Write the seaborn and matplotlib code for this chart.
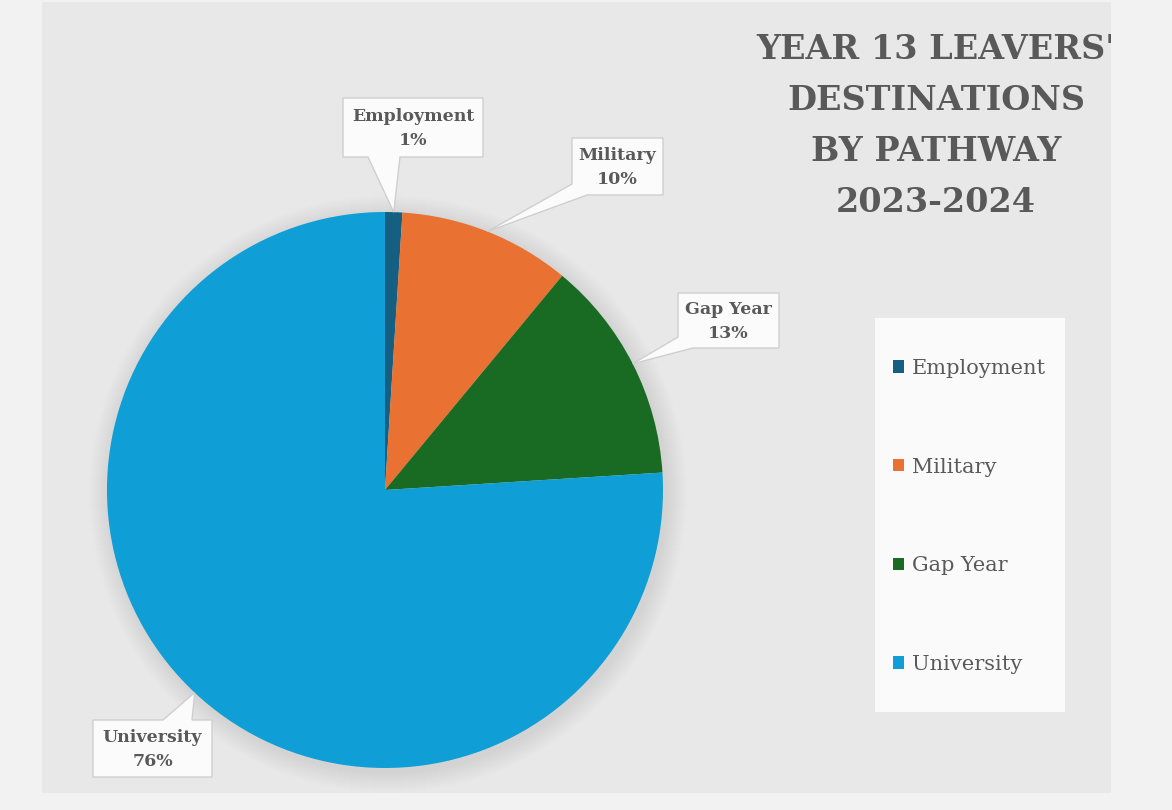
import numpy as np
import matplotlib
matplotlib.use("Agg")
import matplotlib.pyplot as plt
import seaborn as sns
from matplotlib.patches import Rectangle, Polygon, Circle

# ---- data ----
categories = ["Employment", "Military", "Gap Year", "University"]
values = [1, 10, 13, 76]
pct_labels = ["1%", "10%", "13%", "76%"]
colors = ["#156082", "#E97132", "#196B24", "#0F9ED5"]
title_lines = ["YEAR 13 LEAVERS'", "DESTINATIONS", "BY PATHWAY", "2023-2024"]

sns.set_style("white")
plt.rcParams['font.family'] = ['DejaVu Serif']

W, H = 1172, 810
fig = plt.figure(figsize=(W / 100, H / 100), dpi=100)
fig.patch.set_facecolor("#f2f2f2")
ax = fig.add_axes([0, 0, 1, 1])


def Y(y):
    return H - y


panel = Rectangle((42, Y(793)), 1069, 791, facecolor="#e8e8e8", edgecolor="none", zorder=0)
ax.add_patch(panel)

cx, cy, R = 385, Y(490), 278

# soft shadow around pie
for k in range(1, 22):
    ax.add_patch(Circle((cx + 3, cy - 4), R + k, facecolor="black", edgecolor="none",
                        alpha=0.0035, zorder=1))

wedges, _ = ax.pie(values, colors=colors, startangle=90, counterclock=False,
                   center=(cx, cy), radius=R, wedgeprops=dict(linewidth=0, zorder=2))
for w in wedges:
    w.set_zorder(2)

ax.set_xlim(0, W)
ax.set_ylim(0, H)
ax.set_aspect("auto")
ax.axis("off")

txt_color = "#595959"


def tip_of(i):
    w = wedges[i]
    a = np.deg2rad((w.theta1 + w.theta2) / 2)
    return (cx + R * np.cos(a), cy + R * np.sin(a))


# callout boxes (pixel coords, y down)
boxes = {
    0: (343, 98, 483, 157),
    1: (572, 138, 663, 195),
    2: (678, 293, 779, 348),
    3: (93, 720, 212, 777),
}


def callout_poly(i):
    x0, y0, x1, y1 = boxes[i]
    tip = tip_of(i)
    TL, TR, BR, BL = (x0, Y(y0)), (x1, Y(y0)), (x1, Y(y1)), (x0, Y(y1))
    if i == 0:
        pts = [TL, TR, BR, (400, Y(y1)), tip, (368, Y(y1)), BL]
    elif i in (1, 2):
        pts = [TL, TR, BR, (x0 + 15, Y(y1)), tip, (x0, Y(y1 - 11))]
    else:
        pts = [TL, (163, Y(y0)), tip, (192, Y(y0)), TR, BR, BL]
    return pts


for i in range(4):
    poly = Polygon(callout_poly(i), closed=True, facecolor="#fbfbfb",
                   edgecolor="#cfcfcf", linewidth=1.0, zorder=4)
    ax.add_patch(poly)
    x0, y0, x1, y1 = boxes[i]
    ax.text((x0 + x1) / 2, Y((y0 + y1) / 2 + 1), categories[i] + "\n" + pct_labels[i],
            ha="center", va="center", fontsize=12.5, fontweight="bold",
            color=txt_color, linespacing=1.5, zorder=5)

# title
title = ax.text(936, Y(126), "\n".join(title_lines), ha="center", va="center",
                fontsize=24, fontweight="bold", color=txt_color, linespacing=1.70,
                zorder=5, clip_on=True)
title.set_clip_path(panel)

# legend box
ax.add_patch(Rectangle((875, Y(712)), 190, 394, facecolor="#fafafa", edgecolor="none", zorder=3))
leg = ax.legend(wedges, categories, loc="upper left",
                bbox_to_anchor=(893 / W, Y(359) / H), bbox_transform=fig.transFigure,
                frameon=False, fontsize=15, handlelength=0.55, handleheight=0.55,
                handletextpad=0.35, labelspacing=3.82, borderpad=0, borderaxespad=0)
for t in leg.get_texts():
    t.set_color(txt_color)
leg.set_zorder(6)

fig.savefig("out.png", dpi=100, facecolor=fig.get_facecolor())
